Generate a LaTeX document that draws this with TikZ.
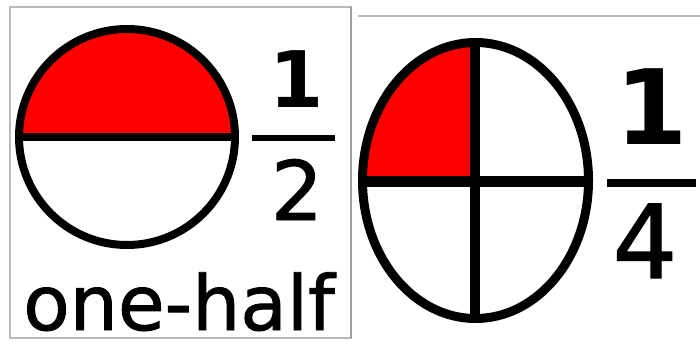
\documentclass[tikz,border=0pt]{standalone}
\usepackage{fontspec}
\setmainfont{DejaVu Sans}
\newfontfamily\heavyface{DejaVu Sans}[FakeBold=1.2]
\begin{document}
\begin{tikzpicture}[x=1pt,y=-1pt,
  frame/.style={draw=gray!55,line width=1.5pt},
  outline/.style={draw=black,line width=8pt},
  divider/.style={draw=black,line width=#1},
  digit/.style={inner sep=0pt,anchor=base,font=\bfseries\fontsize{#1}{#1}\selectfont},
  plaindigit/.style={inner sep=0pt,anchor=base,font=\heavyface\fontsize{#1}{#1}\selectfont},
  fracbar/.style={draw=black,line width=#1}]
\useasboundingbox (0,0) rectangle (700,347);
\fill[white] (0,0) rectangle (700,347);
% left panel
\draw[frame] (10,7) rectangle (351,338);
\draw[draw=gray!75,line width=2pt] (351,7) -- (351,338);
\begin{scope}
  \clip (0,0) rectangle (700,137);
  \fill[red] (127,137) circle[radius=108];
\end{scope}
\draw[outline] (127,137) circle[radius=108];
\coordinate (hl) at (19,137);
\coordinate (hr) at (235,137);
\draw[divider=8pt] (hl) -- (hr);
\node[digit=78] (n1) at (297,108) {1};
\coordinate (b1l) at (252,138);
\coordinate (b1r) at (335,138);
\draw[fracbar=6.5pt] (b1l) -- (b1r);
\node[plaindigit=82] (d2) at (297,220) {2};
\node[inner sep=0pt,anchor=base,font=\heavyface\fontsize{76}{76}\selectfont] (word) at (179,330) {one-half};
% right panel
\draw[draw=gray!55,line width=1.2pt] (358,16) -- (700,16);
\begin{scope}
  \clip (0,0) rectangle (475,182);
  \fill[red] (475.5,180.5) ellipse[x radius=113,y radius=138];
\end{scope}
\draw[outline,line width=9pt] (475.5,180.5) ellipse[x radius=113,y radius=138];
\coordinate (el) at (362,182);
\coordinate (er) at (589,182);
\coordinate (et) at (475,42);
\coordinate (eb) at (475,319);
\draw[divider=11pt] (el) -- (er);
\draw[divider=10pt] (et) -- (eb);
\node[digit=104] (n2) at (652,145) {1};
\coordinate (b2l) at (607,183);
\coordinate (b2r) at (696,183);
\draw[fracbar=8pt] (b2l) -- (b2r);
\node[plaindigit=102] (d4) at (645,278) {4};
\end{tikzpicture}
\end{document}
